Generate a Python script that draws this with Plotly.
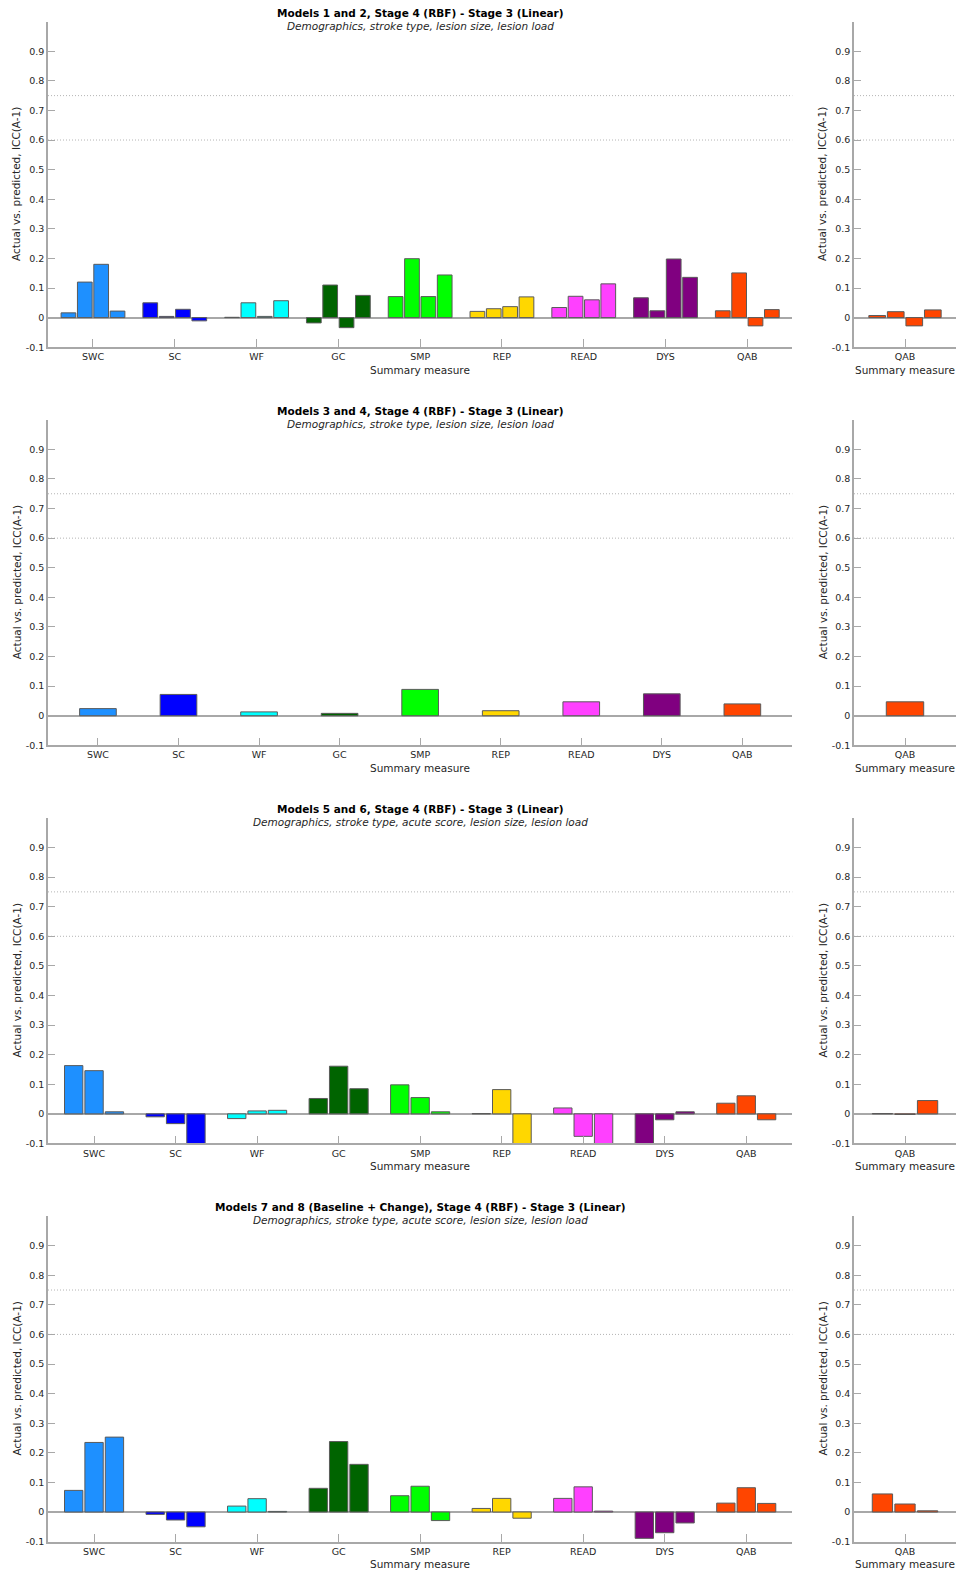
import plotly.graph_objects as go

# ---------------- data ----------------
categories = ["SWC", "SC", "WF", "GC", "SMP", "REP", "READ", "DYS", "QAB"]
cat_colors = ["#1E90FF", "#0000FF", "#00FFFF", "#006400", "#00FF00",
              "#FFD700", "#FF40FF", "#800080", "#FF4500"]
right_category = ["QAB"]
right_color = "#FF4500"

ytick_vals = [-0.1, 0, 0.1, 0.2, 0.3, 0.4, 0.5, 0.6, 0.7, 0.8, 0.9]
ytick_text = ["-0.1", "0", "0.1", "0.2", "0.3", "0.4", "0.5", "0.6", "0.7", "0.8", "0.9"]
ref_lines = [0.6, 0.75]

titles = [
    "Models 1 and 2, Stage 4 (RBF) - Stage 3 (Linear)",
    "Models 3 and 4, Stage 4 (RBF) - Stage 3 (Linear)",
    "Models 5 and 6, Stage 4 (RBF) - Stage 3 (Linear)",
    "Models 7 and 8 (Baseline + Change), Stage 4 (RBF) - Stage 3 (Linear)",
]
subtitles = [
    "Demographics, stroke type, lesion size, lesion load",
    "Demographics, stroke type, lesion size, lesion load",
    "Demographics, stroke type, acute score, lesion size, lesion load",
    "Demographics, stroke type, acute score, lesion size, lesion load",
]
y_label = "Actual vs. predicted, ICC(A-1)"
x_label = "Summary measure"

# Panel 1 (Models 1 and 2): four series
m12_s1 = [0.016, 0.050, 0.001, -0.018, 0.071, 0.021, 0.034, 0.067, 0.023]
m12_s2 = [0.120, 0.004, 0.050, 0.110, 0.199, 0.030, 0.072, 0.023, 0.151]
m12_s3 = [0.180, 0.028, 0.004, -0.034, 0.071, 0.037, 0.060, 0.198, -0.028]
m12_s4 = [0.022, -0.011, 0.057, 0.075, 0.144, 0.070, 0.114, 0.136, 0.027]
m12_qab = [0.007, 0.020, -0.028, 0.026]

# Panel 2 (Models 3 and 4): one series
m34_s1 = [0.024, 0.072, 0.013, 0.008, 0.089, 0.017, 0.047, 0.074, 0.040]
m34_qab = [0.047]

# Panel 3 (Models 5 and 6): three series
m56_s1 = [0.163, -0.010, -0.016, 0.052, 0.098, 0.001, 0.020, -0.110, 0.036]
m56_s2 = [0.146, -0.033, 0.010, 0.161, 0.055, 0.082, -0.076, -0.020, 0.061]
m56_s3 = [0.007, -0.110, 0.012, 0.085, 0.007, -0.110, -0.110, 0.007, -0.020]
m56_qab = [0.001, -0.002, 0.045]

# Panel 4 (Models 7 and 8): three series
m78_s1 = [0.073, -0.008, 0.020, 0.080, 0.055, 0.012, 0.046, -0.089, 0.030]
m78_s2 = [0.235, -0.027, 0.045, 0.238, 0.087, 0.046, 0.085, -0.070, 0.082]
m78_s3 = [0.253, -0.050, 0.002, 0.161, -0.029, -0.021, 0.003, -0.037, 0.029]
m78_qab = [0.061, 0.027, 0.004]

panels = [
    dict(series=[m12_s1, m12_s2, m12_s3, m12_s4], right=m12_qab, slot=0.2, w=0.18, margin=0.55),
    dict(series=[m34_s1], right=m34_qab, slot=0.455, w=0.455, margin=0.62),
    dict(series=[m56_s1, m56_s2, m56_s3], right=m56_qab, slot=0.25, w=0.225, margin=0.565),
    dict(series=[m78_s1, m78_s2, m78_s3], right=m78_qab, slot=0.25, w=0.225, margin=0.565),
]

# ---------------- layout geometry (pixels) ----------------
W, H = 956, 1576
STEP = 399.4
TOP0, BOT0 = 21.7, 348.3
MAIN_X = (48.0, 792.3)
RIGHT_X = (854.0, 956.0)

FONT = "DejaVu Sans"
TXT = "#262626"
AXC = "#a8a8a8"
EDGE = "#5a5a5a"


def px(x):
    return x / W


def py(y):
    return 1 - y / H


def sfx(i):
    return "" if i == 1 else str(i)


fig = go.Figure()
annotations = []
shapes = []
layout = {}

for k, p in enumerate(panels):
    top = TOP0 + STEP * k
    bot = BOT0 + STEP * k
    ydom = [py(bot), py(top)]
    xa_main, xa_right = 2 * k + 1, 2 * k + 2
    n = len(p["series"])
    slot, w = p["slot"], p["w"]

    for i, vals in enumerate(p["series"]):
        off = -n * slot / 2 + i * slot + (slot - w) / 2
        fig.add_trace(go.Bar(
            x=categories, y=vals, width=w, offset=off,
            marker=dict(color=cat_colors, line=dict(color=EDGE, width=1)),
            xaxis=f"x{sfx(xa_main)}", yaxis=f"y{sfx(xa_main)}", showlegend=False,
        ))
    nr = len(p["right"])
    for i, v in enumerate(p["right"]):
        off = -nr * slot / 2 + i * slot + (slot - w) / 2
        fig.add_trace(go.Bar(
            x=right_category, y=[v], width=w, offset=off,
            marker=dict(color=right_color, line=dict(color=EDGE, width=1)),
            xaxis=f"x{sfx(xa_right)}", yaxis=f"y{sfx(xa_right)}", showlegend=False,
        ))

    for idx, (dom, cats, m) in ((xa_main, (MAIN_X, categories, p["margin"])),
                                 (xa_right, (RIGHT_X, right_category, p["margin"]))):
        s = sfx(idx)
        layout[f"xaxis{s}"] = dict(
            domain=[px(dom[0]), px(dom[1])], anchor=f"y{s}",
            type="category", categoryorder="array", categoryarray=cats,
            range=[-m, len(cats) - 1 + m],
            showline=True, linecolor=AXC, linewidth=1.5,
            ticks="inside", ticklen=8, tickcolor=AXC, tickwidth=1,
            showgrid=False, zeroline=False,
            tickfont=dict(family=FONT, size=9.5, color=TXT),
            fixedrange=True,
        )
        layout[f"yaxis{s}"] = dict(
            domain=ydom, anchor=f"x{s}", range=[-0.1, 1.0],
            tickmode="array", tickvals=ytick_vals, ticktext=ytick_text,
            showline=True, linecolor=AXC, linewidth=1.5,
            ticks="inside", ticklen=7, tickcolor=AXC, tickwidth=1,
            showgrid=False, zeroline=True, zerolinecolor=AXC, zerolinewidth=1.5,
            tickfont=dict(family=FONT, size=9.5, color=TXT),
            fixedrange=True,
        )
        for rv in ref_lines:
            shapes.append(dict(type="line", xref=f"x{s} domain", yref=f"y{s}",
                               x0=0, x1=1, y0=rv, y1=rv,
                               line=dict(color="#b4b4b4", width=1, dash="1px,2px"),
                               layer="below"))

        cx = (dom[0] + dom[1]) / 2
        annotations.append(dict(text=x_label, xref="paper", yref="paper",
                                x=px(cx), y=py(370.7 + STEP * k),
                                xanchor="center", yanchor="middle", showarrow=False,
                                font=dict(family=FONT, size=10.5, color=TXT)))
        lx = 16.7 if idx == xa_main else 822.7
        annotations.append(dict(text=y_label, xref="paper", yref="paper",
                                x=px(lx), y=py((top + bot) / 2), textangle=-90,
                                xanchor="center", yanchor="middle", showarrow=False,
                                font=dict(family=FONT, size=10.5, color=TXT)))

    cx = (MAIN_X[0] + MAIN_X[1]) / 2
    annotations.append(dict(text=f"<b>{titles[k]}</b>", xref="paper", yref="paper",
                            x=px(cx), y=py(12.7 + STEP * k),
                            xanchor="center", yanchor="middle", showarrow=False,
                            font=dict(family=FONT, size=10.5, color="#000000")))
    annotations.append(dict(text=f"<i>{subtitles[k]}</i>", xref="paper", yref="paper",
                            x=px(cx), y=py(26.0 + STEP * k),
                            xanchor="center", yanchor="middle", showarrow=False,
                            font=dict(family=FONT, size=10.5, color=TXT)))

fig.update_layout(
    width=W, height=H,
    margin=dict(l=0, r=0, t=0, b=0),
    paper_bgcolor="white", plot_bgcolor="white",
    barmode="overlay",
    annotations=annotations, shapes=shapes,
    **layout,
)

fig.write_html("out.html")
